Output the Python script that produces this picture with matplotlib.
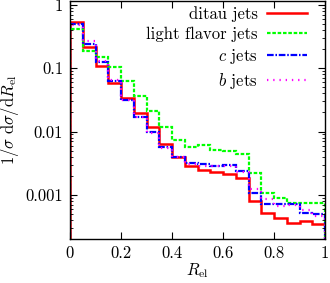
import numpy as np
import matplotlib
matplotlib.use("Agg")
import matplotlib.pyplot as plt
from matplotlib.ticker import FixedLocator, FuncFormatter, LogLocator, NullFormatter
from matplotlib.lines import Line2D

plt.rcParams['font.family'] = ['cmr10', 'DejaVu Serif']
plt.rcParams['mathtext.fontset'] = 'cm'
plt.rcParams['axes.formatter.use_mathtext'] = True

edges = np.linspace(0, 1, 21)

ditau = [0.53, 0.215, 0.108, 0.0575, 0.0334, 0.0198, 0.0116, 0.0063, 0.0040, 0.00284,
         0.00246, 0.00232, 0.00216, 0.00184, 0.00080, 0.00051, 0.000435, 0.000363, 0.00038, 0.00035]
light = [0.42, 0.186, 0.148, 0.103, 0.064, 0.037, 0.021, 0.012, 0.0073, 0.0057,
         0.0061, 0.0051, 0.0049, 0.0044, 0.00224, 0.00105, 0.00088, 0.00073, 0.00073, 0.00075]
cjets = [0.50, 0.246, 0.125, 0.063, 0.032, 0.0171, 0.0098, 0.0056, 0.0040, 0.0032,
         0.0031, 0.0029, 0.0030, 0.0024, 0.00105, 0.00072, 0.00072, 0.00072, 0.00052, 0.00050]
bjets = [0.48, 0.268, 0.128, 0.065, 0.031, 0.0168, 0.0095, 0.0054, 0.0040, 0.0031,
         0.0029, 0.0028, 0.0029, 0.0023, 0.00125, 0.00087, 0.00067, 0.00070, 0.00058, 0.00047]

labels = ['ditau jets', 'light flavor jets', '$c$ jets', '$b$ jets']
colors = ['#ff0000', '#00ff00', '#0000ff', '#ff00ff']
styles = ['-', (0, (1.6, 0.8)), (0, (3, 0.8, 0.7, 0.8)), (0, (0.6, 2.2))]
widths = [1.8, 1.6, 1.6, 1.6]

fig = plt.figure(figsize=(3.3, 2.83), dpi=100)
ax = fig.add_axes([70 / 330, 1 - 239 / 283, 255 / 330, 238 / 283])

for vals, lab, c, ls, lw in zip([ditau, light, cjets, bjets], labels, colors, styles, widths):
    ax.stairs(vals, edges, baseline=1e-6, color=c, linestyle=ls, linewidth=lw, label=lab)

ax.set_yscale('log')
ax.set_xlim(0, 1)
ax.set_ylim(2.0e-4, 1.157)

ax.xaxis.set_major_locator(FixedLocator([0, 0.2, 0.4, 0.6, 0.8, 1.0]))
ax.xaxis.set_major_formatter(FuncFormatter(lambda v, p: '%g' % v))
ax.yaxis.set_major_locator(FixedLocator([1e-3, 1e-2, 1e-1, 1]))
ax.yaxis.set_major_formatter(FuncFormatter(lambda v, p: '%g' % v))
ax.yaxis.set_minor_locator(LogLocator(base=10, subs=np.arange(2, 10)))
ax.yaxis.set_minor_formatter(NullFormatter())

ax.tick_params(which='both', direction='in', top=True, right=True, labelsize=12, pad=5)
ax.tick_params(which='major', length=5, width=0.8)
ax.tick_params(which='minor', length=2.5, width=0.6)
for s in ax.spines.values():
    s.set_linewidth(1.0)

ax.set_xlabel(r'$R_{\rm el}$', fontsize=12, labelpad=0)
ax.set_ylabel(r'$1/\sigma\ \mathrm{d}\sigma/\mathrm{d}R_{\rm el}$', fontsize=12, labelpad=3)

handles = [Line2D([], [], color=c, linestyle=ls, linewidth=lw) for c, ls, lw in zip(colors, styles, widths)]
leg = ax.legend(handles, labels, loc='upper right', frameon=False, markerfirst=False,
                fontsize=12, handlelength=2.4, labelspacing=0.3, borderaxespad=0.0,
                handletextpad=0.55, borderpad=0.0,
                bbox_to_anchor=(1 - 18 / 255, 1 - 5 / 238))

fig.savefig('out.png', dpi=100)
